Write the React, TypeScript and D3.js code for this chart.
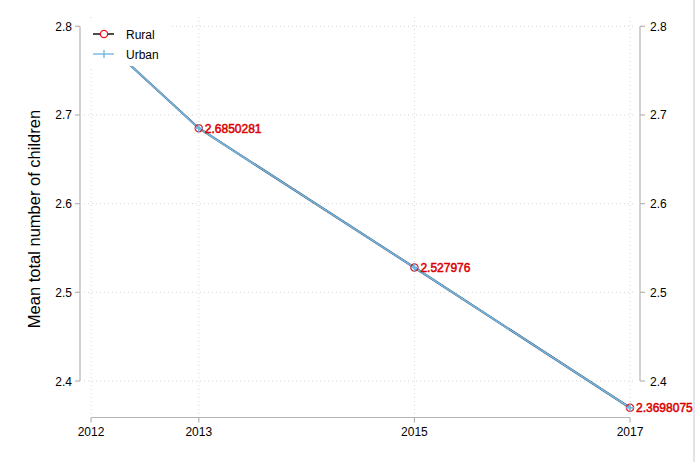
import React from "react";
import * as d3 from "d3";

const years = [2012, 2013, 2015, 2017];
const rural = [2.797, 2.6850281, 2.527976, 2.3698075];
const urban = [2.797, 2.6850281, 2.527976, 2.3698075];
// the 2012 label sits under the legend in the reference, so it is not shown
const labels = ["", "2.6850281", "2.527976", "2.3698075"];
const yTicks = [2.4, 2.5, 2.6, 2.7, 2.8];
const xTicks = [2012, 2013, 2015, 2017];

export default function App() {
  const W = 695, H = 462;
  const x = d3.scaleLinear().domain([2012, 2017]).range([91, 630]);
  const y = d3.scaleLinear().domain([2.4, 2.8]).range([381, 26.3]);
  const line = d3.line<number>().x((_, i) => x(years[i])).y((d) => y(d));
  const font = "'Liberation Sans', Arial, Helvetica, sans-serif";
  const axisCol = "#b4b4b4";
  const gridCol = "#d6d6d6";
  return (
    <svg width={W} height={H} style={{ position: "absolute", left: 0, top: 0 }} fontFamily={font}>
      <rect width={W} height={H} fill="#fff" />
      {/* grid */}
      {yTicks.map((t) => (
        <line key={"gy" + t} x1={84} x2={636} y1={y(t)} y2={y(t)} stroke={gridCol} strokeDasharray="1,3" />
      ))}
      {xTicks.map((t) => (
        <line key={"gx" + t} x1={x(t)} x2={x(t)} y1={17} y2={417} stroke={gridCol} strokeDasharray="1,3" />
      ))}
      {/* left axis */}
      <line x1={80} x2={80} y1={y(2.8)} y2={y(2.4)} stroke={axisCol} strokeWidth={1.2} />
      {yTicks.map((t) => (
        <g key={"ly" + t}>
          <line x1={75} x2={80} y1={y(t)} y2={y(t)} stroke={axisCol} strokeWidth={1.2} />
          <text x={72} y={y(t) + 4.5} textAnchor="end" fontSize={12} fill="#000">{t.toFixed(1)}</text>
        </g>
      ))}
      {/* right axis */}
      <line x1={640} x2={640} y1={y(2.8)} y2={y(2.4)} stroke={axisCol} strokeWidth={1.2} />
      {yTicks.map((t) => (
        <g key={"ry" + t}>
          <line x1={640} x2={645} y1={y(t)} y2={y(t)} stroke={axisCol} strokeWidth={1.2} />
          <text x={650} y={y(t) + 4.5} textAnchor="start" fontSize={12} fill="#000">{t.toFixed(1)}</text>
        </g>
      ))}
      {/* x axis */}
      <line x1={x(2012)} x2={x(2017)} y1={417.5} y2={417.5} stroke={axisCol} strokeWidth={1.2} />
      {xTicks.map((t) => (
        <g key={"xt" + t}>
          <line x1={x(t)} x2={x(t)} y1={417.5} y2={422.5} stroke={axisCol} strokeWidth={1.2} />
          <text x={x(t)} y={436} textAnchor="middle" fontSize={12} fill="#000">{t}</text>
        </g>
      ))}
      {/* y title */}
      <text transform={`translate(40,219) rotate(-90)`} textAnchor="middle" fontSize={16.5} fill="#000">
        Mean total number of children
      </text>
      {/* lines */}
      <path d={line(rural) || ""} fill="none" stroke="#3c4c60" strokeWidth={2.2} />
      <path d={line(urban) || ""} fill="none" stroke="#74b6e2" strokeWidth={1.6} />
      {rural.map((v, i) => (
        <circle key={"rc" + i} cx={x(years[i])} cy={y(v)} r={3.6} fill="none" stroke="#e8141c" strokeWidth={1.4} />
      ))}
      {urban.map((v, i) => (
        <g key={"up" + i} stroke="#74b6e2" strokeWidth={1.6}>
          <line x1={x(years[i]) - 4} x2={x(years[i]) + 4} y1={y(v)} y2={y(v)} />
          <line x1={x(years[i])} x2={x(years[i])} y1={y(v) - 4} y2={y(v) + 4} />
        </g>
      ))}
      {rural.map((v, i) =>
        labels[i] ? (
          <text key={"lb" + i} x={x(years[i]) + 6} y={y(v) + 4.5} fontSize={12} fill="#f00000" stroke="#d00000" strokeWidth={0.5}>
            {labels[i]}
          </text>
        ) : null
      )}
      {/* legend */}
      <rect x={84} y={18} width={86} height={48} fill="#fff" />
      <line x1={93} x2={114} y1={34} y2={34} stroke="#000" strokeWidth={1.4} />
      <circle cx={104} cy={34} r={3.6} fill="#fff" stroke="#e8141c" strokeWidth={1.3} />
      <text x={126} y={38.5} fontSize={12} fill="#000">Rural</text>
      <line x1={93} x2={114} y1={54} y2={54} stroke="#74b6e2" strokeWidth={1.4} />
      <line x1={104} x2={104} y1={50} y2={58} stroke="#74b6e2" strokeWidth={1.4} />
      <text x={126} y={58.5} fontSize={12} fill="#000">Urban</text>
      {/* right border */}
      <line x1={694} x2={694} y1={0} y2={H} stroke="#c8c8c8" />
    </svg>
  );
}
